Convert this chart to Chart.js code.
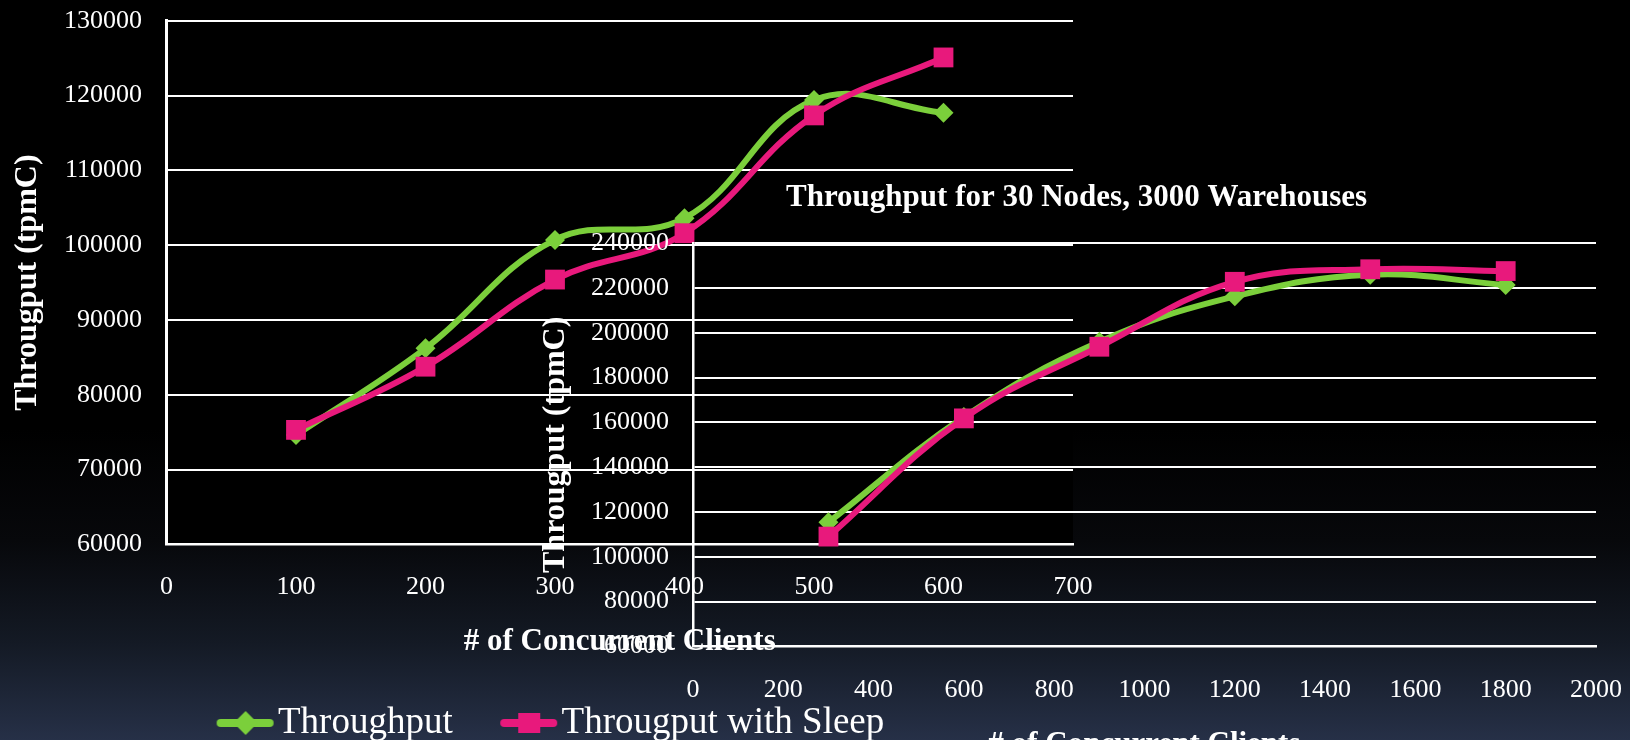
<!DOCTYPE html>
<html>
<head>
<meta charset="utf-8">
<title>TPC-C Throughput</title>
<script src="https://cdn.jsdelivr.net/npm/chart.js@4.4.1/dist/chart.umd.min.js"></script>
<style>
  html, body { margin: 0; padding: 0; width: 1630px; height: 740px; overflow: hidden; }
  body {
    background: linear-gradient(to bottom,
      #000000 0%, #000000 58%, #07080b 73%, #141a25 87%, #263047 100%);
  }
  canvas { position: absolute; left: 0; top: 0; }
</style>
</head>
<body>
<canvas id="small" width="1630" height="740"></canvas>
<canvas id="large" width="1630" height="740"></canvas>
<script>
// ---- data -------------------------------------------------------------
const seriesNames = ['Throughput', 'Througput with Sleep'];

// 10-node run
const clientsSmall = [100, 200, 300, 400, 500, 600];
const throughputSmall = [74600, 86200, 100700, 103600, 119400, 117700];
const sleepSmall = [75300, 83750, 95400, 101600, 117350, 125100];

// 30-node, 3000-warehouse run
const clientsLarge = [300, 600, 900, 1200, 1500, 1800];
const throughputLarge = [115400, 162400, 196000, 216300, 226000, 221400];
const sleepLarge = [109000, 161800, 193800, 222800, 228400, 227600];

// axis ticks
const xTicksSmall = [0, 100, 200, 300, 400, 500, 600, 700];
const yTicksSmall = [60000, 70000, 80000, 90000, 100000, 110000, 120000, 130000];
const xTicksLarge = [0, 200, 400, 600, 800, 1000, 1200, 1400, 1600, 1800, 2000];
const yTicksLarge = [60000, 80000, 100000, 120000, 140000, 160000, 180000, 200000, 220000, 240000];

// texts
const titleLarge = 'Throughput for 30 Nodes, 3000 Warehouses';
const xTitle = '# of Concurrent Clients';
const yTitle = 'Througput (tpmC)';

// ---- styling ----------------------------------------------------------
const GREEN = '#7bcf3b';
const PINK = '#e8197c';
const WHITE = '#ffffff';
const CLEAR = 'rgba(0,0,0,0)';
const SERIF = '"Liberation Serif", "Times New Roman", serif';

Chart.defaults.font.family = SERIF;
Chart.defaults.color = WHITE;

const points = (xs, ys) => xs.map((x, i) => ({ x: x, y: ys[i] }));
const fixedTicks = list => scale => { scale.ticks = list.map(v => ({ value: v })); };
const plainLabel = v => String(v);

function seriesStyle(color, marker, radius, order) {
  return {
    borderColor: color,
    backgroundColor: color,
    pointBackgroundColor: color,
    pointBorderColor: color,
    borderWidth: 6,
    pointStyle: marker,
    pointRadius: radius,
    pointHoverRadius: radius,
    pointBorderWidth: 0,
    tension: 0.4,
    clip: false,
    order: order
  };
}

// legend swatch: a short line with the series marker on it
function legendSwatch(color, marker) {
  const c = document.createElement('canvas');
  c.width = 72; c.height = 28;
  const g = c.getContext('2d');
  g.strokeStyle = color; g.fillStyle = color;
  g.lineWidth = 8; g.lineCap = 'round';
  g.beginPath(); g.moveTo(7, 14); g.lineTo(56, 14); g.stroke();
  if (marker === 'diamond') {
    g.beginPath();
    g.moveTo(32, 2); g.lineTo(44, 14); g.lineTo(32, 26); g.lineTo(20, 14);
    g.closePath(); g.fill();
  } else {
    g.fillRect(21, 4, 22, 20);
  }
  return c;
}
const swatches = [legendSwatch(GREEN, 'diamond'), legendSwatch(PINK, 'square')];

// black plot background for the 10-node chart
const plotFill = {
  id: 'plotFill',
  beforeDraw(chart, args, opts) {
    if (!opts.color) return;
    const a = chart.chartArea;
    const ctx = chart.ctx;
    ctx.save();
    ctx.fillStyle = opts.color;
    ctx.fillRect(a.left, a.top, a.right - a.left, a.bottom - a.top);
    ctx.restore();
  }
};

const tickFont = { size: 26 };
const titleFont = { size: 31, weight: 'bold', lineHeight: 1 };
const yTitleFont = { size: 32, weight: 'bold', lineHeight: 1 };

// ---- 10-node chart ----------------------------------------------------
new Chart(document.getElementById('small'), {
  type: 'line',
  data: {
    datasets: [
      Object.assign({ label: seriesNames[0], data: points(clientsSmall, throughputSmall) },
        seriesStyle(GREEN, 'rectRot', 10, 1)),
      Object.assign({ label: seriesNames[1], data: points(clientsSmall, sleepSmall) },
        seriesStyle(PINK, 'rect', 14, 0))
    ]
  },
  plugins: [plotFill],
  options: {
    responsive: false,
    devicePixelRatio: 1,
    animation: false,
    layout: { padding: { left: 51, right: 557, top: 20.8, bottom: -11.5 } },
    plugins: {
      plotFill: { color: '#000000' },
      tooltip: { enabled: false },
      title: { display: false },
      legend: {
        display: true,
        position: 'bottom',
        align: 'center',
        labels: {
          color: WHITE,
          font: { size: 37 },
          usePointStyle: true,
          pointStyleWidth: 19.8,
          padding: 70.6,
          sort: (a, b) => a.datasetIndex - b.datasetIndex,
          generateLabels: chart =>
            Chart.defaults.plugins.legend.labels.generateLabels(chart)
              .map(item => Object.assign(item, { pointStyle: swatches[item.datasetIndex] }))
        }
      }
    },
    scales: {
      x: {
        type: 'linear', min: 0, max: 700,
        afterBuildTicks: fixedTicks(xTicksSmall),
        afterFit: s => { s.height = 89.6; },
        grid: { display: false, drawTicks: true, tickLength: 27, tickColor: CLEAR },
        border: { display: true, color: WHITE, width: 2.5 },
        ticks: { color: WHITE, font: tickFont, padding: 0, maxRotation: 0, autoSkip: false, callback: plainLabel },
        title: { display: true, text: xTitle, color: WHITE, font: titleFont, padding: { top: 0, bottom: -23.6 } }
      },
      y: {
        type: 'linear', min: 60000, max: 130000,
        afterBuildTicks: fixedTicks(yTicksSmall),
        afterFit: s => { s.width = 115.5; },
        grid: { color: WHITE, lineWidth: 2, drawTicks: true, tickLength: 24.5, tickColor: CLEAR },
        border: { display: true, color: WHITE, width: 3 },
        ticks: { color: WHITE, font: tickFont, padding: 0, autoSkip: false, callback: plainLabel },
        title: { display: true, text: yTitle, color: WHITE, font: yTitleFont, padding: { top: -39, bottom: 0 } }
      }
    }
  }
});

// ---- 30-node chart ----------------------------------------------------
new Chart(document.getElementById('large'), {
  type: 'line',
  data: {
    datasets: [
      Object.assign({ label: seriesNames[0], data: points(clientsLarge, throughputLarge) },
        seriesStyle(GREEN, 'rectRot', 10, 1)),
      Object.assign({ label: seriesNames[1], data: points(clientsLarge, sleepLarge) },
        seriesStyle(PINK, 'rect', 14, 0))
    ]
  },
  options: {
    responsive: false,
    devicePixelRatio: 1,
    animation: false,
    layout: { padding: { left: 557, right: 34, top: 0, bottom: 0 } },
    plugins: {
      tooltip: { enabled: false },
      legend: { display: false },
      title: {
        display: true,
        text: titleLarge,
        color: WHITE,
        font: titleFont,
        padding: { top: 182, bottom: 30.3 }
      }
    },
    scales: {
      x: {
        type: 'linear', min: 0, max: 2000,
        afterBuildTicks: fixedTicks(xTicksLarge),
        afterFit: s => { s.height = 93.7; },
        grid: { display: false, drawTicks: true, tickLength: 28, tickColor: CLEAR },
        border: { display: true, color: WHITE, width: 2.5 },
        ticks: { color: WHITE, font: tickFont, padding: 0, maxRotation: 0, autoSkip: false, callback: plainLabel },
        title: { display: true, text: xTitle, color: WHITE, font: titleFont, padding: { top: 0, bottom: -20 } }
      },
      y: {
        type: 'linear', min: 60000, max: 240000,
        afterBuildTicks: fixedTicks(yTicksLarge),
        afterFit: s => { s.width = 136; },
        grid: { color: WHITE, lineWidth: 2, drawTicks: true, tickLength: 24, tickColor: CLEAR },
        border: { display: true, color: WHITE, width: 2.5 },
        ticks: { color: WHITE, font: tickFont, padding: 0, autoSkip: false, callback: plainLabel },
        title: { display: true, text: yTitle, color: WHITE, font: yTitleFont, padding: { top: -17, bottom: 0 } }
      }
    }
  }
});
</script>
</body>
</html>
